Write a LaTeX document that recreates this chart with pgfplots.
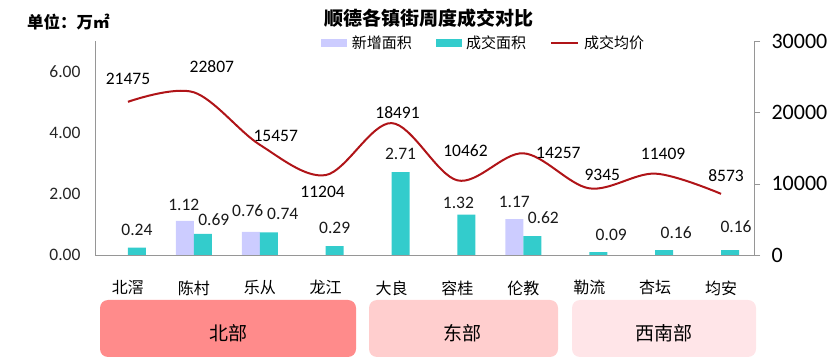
\documentclass[border=0pt]{standalone}
\usepackage{fontspec}
\usepackage{pgfplots}
\pgfplotsset{compat=1.18}
\usepackage{pgfplotstable}
\setmainfont{Noto Sans CJK SC}
\newfontfamily\numf{Carlito}
\definecolor{lav}{RGB}{204,204,255}
\definecolor{cyanb}{RGB}{51,204,204}
\definecolor{lred}{RGB}{176,20,24}
\definecolor{boxA}{RGB}{255,139,139}
\definecolor{boxB}{RGB}{255,206,206}
\definecolor{boxC}{RGB}{255,229,232}
\definecolor{axgray}{RGB}{150,150,150}

\pgfplotstableread{
x y dx dy
1 1.12 -1 16
2 0.76 -3 21
6 1.17 0 17
}\newarea
\pgfplotstableread{
x y dx dy
0 0.24 0 18
1 0.69 11 14
2 0.74 14 18
3 0.29 0 18
4 2.71 0 18
5 1.32 -8 12
6 0.62 11 18
7 0.09 13 17
8 0.16 12 17
9 0.16 6 23
}\dealarea
\pgfplotstableread{
x y dx dy
0 21475 0 23
1 22807 18 26
2 15457 16 9
3 11204 -3 -17
4 18491 6 11
5 10462 8 30
6 14257 35 0
7 9345 13 13
8 11409 8 20
9 8573 5 18
}\price

\begin{document}
\begin{tikzpicture}[x=1pt,y=1pt]
\useasboundingbox (0,0) rectangle (840,358);
% region boxes
\fill[boxA, rounded corners=8pt] (100,1) rectangle (356,58);
\fill[boxB, rounded corners=8pt] (369,1) rectangle (558,58);
\fill[boxC, rounded corners=8pt] (572,1) rectangle (756,58);
\node[font=\fontsize{19}{22}\selectfont] at (228,25) {北部};
\node[font=\fontsize{19}{22}\selectfont] at (462,25) {东部};
\node[font=\fontsize{19}{22}\selectfont] at (664,25) {西南部};
% title and unit
\node[font=\fontsize{19}{22}\selectfont\bfseries] at (429,340) {顺德各镇街周度成交对比};
\node[font=\fontsize{16.5}{20}\selectfont\bfseries, anchor=west, inner sep=0pt] at (27,336) {单位：万㎡};

\begin{axis}[
  at={(95pt,103pt)}, anchor=south west, scale only axis,
  width=659pt, height=214pt,
  xmin=-0.5, xmax=9.5, ymin=0, ymax=7,
  axis x line*=bottom, axis y line*=left,
  axis line style={axgray, -},
  xtick={0,...,9},
  xticklabels={北滘,陈村,乐从,龙江,大良,容桂,伦教,勒流,杏坛,均安},
  x tick label style={font=\fontsize{16}{18}\selectfont, yshift=-22pt},
  ytick={0,2,4,6},
  yticklabel={\numf\pgfmathprintnumber[fixed,fixed zerofill,precision=2,assume math mode=true]{\tick}},
  y tick label style={font=\fontsize{17.5}{20}\selectfont, xshift=-11pt, text=black!85},
  major tick length=0pt,
  ybar=0pt, bar width=18pt,
  clip=false,
]
\addplot[fill=lav, draw=none,
  visualization depends on={\thisrow{dx}\as\dx},
  visualization depends on={\thisrow{dy}\as\dy},
  nodes near coords={\numf\pgfmathprintnumber[fixed,fixed zerofill,precision=2,assume math mode=true]{\pgfplotspointmeta}},
  every node near coord/.append style={font=\fontsize{17.5}{20}\selectfont, anchor=center, xshift=\dx pt, yshift=\dy pt, text=black!90}]
  table[x=x,y=y] {\newarea};
\addplot[fill=cyanb, draw=none,
  visualization depends on={\thisrow{dx}\as\dx},
  visualization depends on={\thisrow{dy}\as\dy},
  nodes near coords={\numf\pgfmathprintnumber[fixed,fixed zerofill,precision=2,assume math mode=true]{\pgfplotspointmeta}},
  every node near coord/.append style={font=\fontsize{17.5}{20}\selectfont, anchor=center, xshift=\dx pt, yshift=\dy pt, text=black!90}]
  table[x=x,y=y] {\dealarea};
\end{axis}

\begin{axis}[
  at={(95pt,103pt)}, anchor=south west, scale only axis,
  width=659pt, height=214pt,
  xmin=-0.5, xmax=9.5, ymin=0, ymax=30000,
  axis x line=none, axis y line*=right,
  axis line style={axgray, -},
  ytick={0,10000,20000,30000},
  scaled y ticks=false,
  yticklabel={\numf\pgfmathprintnumber[fixed,1000 sep={},assume math mode=true]{\tick}},
  y tick label style={font=\fontsize{22}{25}\selectfont, text=black, xshift=8pt},
  tick align=outside, major tick length=6pt,
  tick style={axgray},
  clip=false,
  legend columns=3,
  legend style={at={(0.59,0.99)}, anchor=center, draw=none, fill=none,
    font=\fontsize{15}{17}\selectfont, inner sep=0pt,
    /tikz/every odd column/.append style={column sep=3pt},
    /tikz/every even column/.append style={column sep=22pt}},
]
\addlegendimage{legend image code/.code={\fill[lav] (0pt,-3.5pt) rectangle (25pt,3.5pt);}}
\addlegendentry{新增面积}
\addlegendimage{legend image code/.code={\fill[cyanb] (0pt,-3.5pt) rectangle (25pt,3.5pt);}}
\addlegendentry{成交面积}
\addplot[lred, line width=2pt, smooth, tension=0.55, mark=none,
  legend image code/.code={\draw[lred, line width=2pt] (0pt,0pt) -- (27pt,0pt);},
  visualization depends on={\thisrow{dx}\as\dx},
  visualization depends on={\thisrow{dy}\as\dy},
  nodes near coords={\numf\pgfmathprintnumber[fixed,1000 sep={},assume math mode=true]{\pgfplotspointmeta}},
  every node near coord/.append style={font=\fontsize{17.5}{20}\selectfont, anchor=center, xshift=\dx pt, yshift=\dy pt, text=black}]
  table[x=x,y=y] {\price};
\addlegendentry{成交均价}
\end{axis}
\end{tikzpicture}
\end{document}
